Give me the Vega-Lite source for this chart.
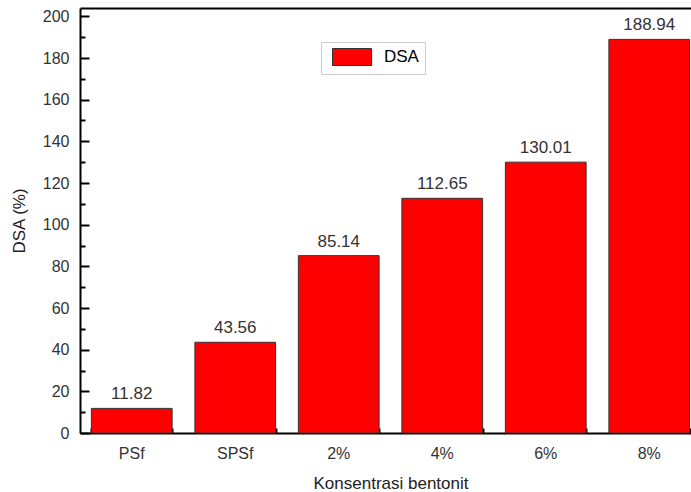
{
  "$schema": "https://vega.github.io/schema/vega-lite/v6.json",
  "width": 611,
  "height": 425,
  "autosize": {"type": "none"},
  "padding": {"left": 80, "top": 8, "right": 0, "bottom": 59},
  "background": "white",
  "config": {
    "view": {"stroke": null},
    "font": "Liberation Sans",
    "axis": {"grid": false, "domainColor": "black", "tickColor": "black", "labelColor": "#333", "titleColor": "#222", "labelFont": "Liberation Sans", "titleFont": "Liberation Sans", "labelFontSize": 16, "titleFontSize": 17, "titleFontWeight": "normal"}
  },
  "data": {"values": [
    {"k": "PSf", "dsa": 11.82},
    {"k": "SPSf", "dsa": 43.56},
    {"k": "2%", "dsa": 85.14},
    {"k": "4%", "dsa": 112.65},
    {"k": "6%", "dsa": 130.01},
    {"k": "8%", "dsa": 188.94}
  ]},
  "encoding": {
    "x": {"field": "k", "type": "nominal", "sort": null,
      "scale": {"type": "band", "range": [0, 621], "paddingInner": 0.22, "paddingOuter": 0.11}},
    "y": {"field": "dsa", "type": "quantitative", "scale": {"domain": [0, 204], "nice": false, "zero": true}}
  },
  "layer": [
    {
      "mark": {"type": "bar", "stroke": "#333", "strokeWidth": 1},
      "encoding": {
        "x": {"field": "k", "type": "nominal", "sort": null,
          "axis": {"orient": "bottom", "title": "Konsentrasi bentonit", "titlePadding": 14, "labelPadding": 21, "tickSize": -9, "tickWidth": 2, "domainWidth": 2, "labelAngle": 0, "tickBand": "center"}},
        "y": {"field": "dsa", "type": "quantitative",
          "axis": {"orient": "left", "title": "DSA (%)", "values": [0, 20, 40, 60, 80, 100, 120, 140, 160, 180, 200], "tickSize": -9, "tickWidth": 2, "domainWidth": 2, "labelPadding": 20, "titlePadding": 14}},
        "color": {"datum": "DSA", "type": "nominal",
          "scale": {"range": ["#ff0000"]},
          "legend": {"title": null, "orient": "none", "legendX": 241, "legendY": 34, "direction": "vertical",
            "symbolType": "M-0.41,-1L4.19,-1L4.19,1L-0.41,1Z", "symbolSize": 289, "symbolStrokeColor": "#333", "symbolStrokeWidth": 1,
            "labelFontSize": 17, "labelColor": "black", "labelFont": "Liberation Sans", "labelOffset": 39,
            "strokeColor": "#ccc", "fillColor": "white", "padding": 6}}
      }
    },
    {
      "mark": {"type": "text", "dy": -14, "fontSize": 17, "color": "#333", "font": "Liberation Sans"},
      "encoding": {
        "text": {"field": "dsa", "type": "quantitative", "format": ".2f"},
        "x": {"field": "k", "type": "nominal", "sort": null,
          "axis": {"orient": "bottom", "title": null, "labels": false, "domain": false, "tickSize": -5, "tickWidth": 2, "tickBand": "extent"}},
        "y": {"field": "dsa", "type": "quantitative",
          "axis": {"orient": "left", "title": null, "labels": false, "domain": false, "values": [10, 30, 50, 70, 90, 110, 130, 150, 170, 190], "tickSize": -5, "tickWidth": 2}}
      }
    },
    {
      "mark": {"type": "text", "text": ""},
      "encoding": {
        "x": {"field": "k", "type": "nominal", "sort": null,
          "axis": {"orient": "top", "title": null, "labels": false, "ticks": false, "domainWidth": 2}},
        "y": {"field": "dsa", "type": "quantitative", "axis": null}
      }
    }
  ],
  "resolve": {"axis": {"x": "independent", "y": "independent"}}
}
